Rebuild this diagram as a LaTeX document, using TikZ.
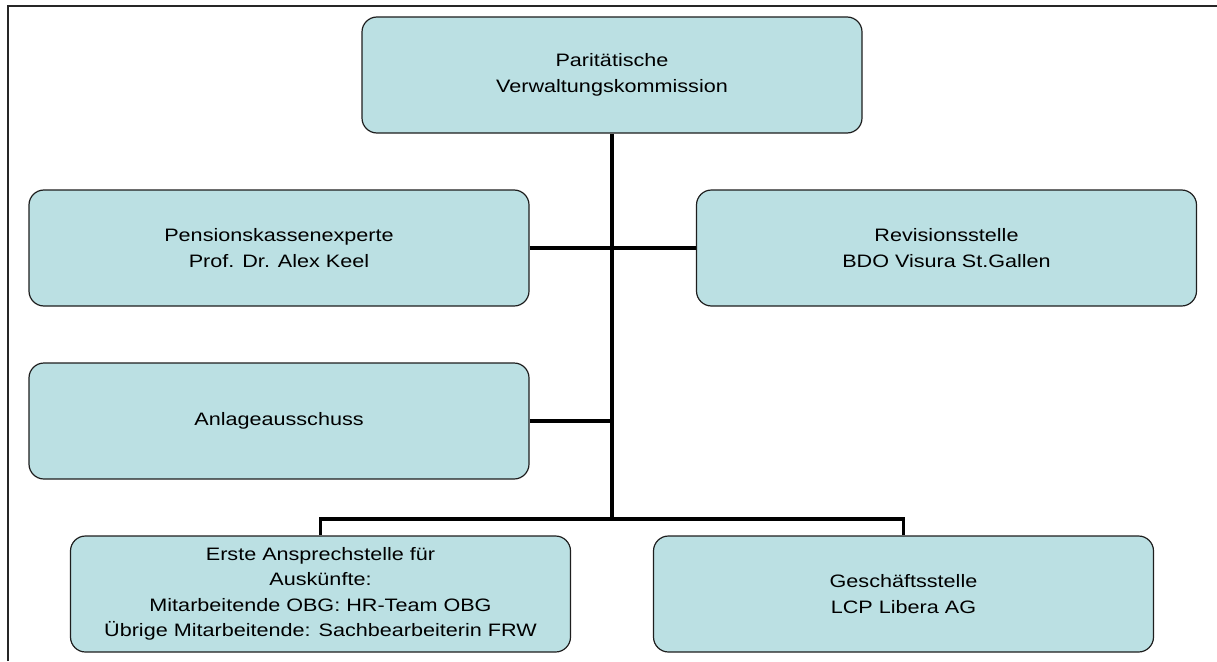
\documentclass[tikz,border=0pt]{standalone}
\usepackage{fontspec}
\setmainfont[FakeStretch=1.2]{Liberation Sans}
\definecolor{boxfill}{RGB}{187,224,227}
\definecolor{boxline}{RGB}{30,30,30}
\begin{document}
\begin{tikzpicture}[x=1pt,y=-1pt,
  orgbox/.style={draw=boxline, line width=1.2pt, fill=boxfill, rounded corners=15pt,
    minimum width=500pt, minimum height=116pt, inner sep=0pt, align=center,
    font=\fontsize{18}{25.5}\selectfont},
  conn/.style={draw=black, line width=3.6pt, line join=miter},
  frameline/.style={draw=black!85, line width=2pt}]
\useasboundingbox (0,0) rectangle (1217,661);
\node[orgbox] (top) at (612,75) {Paritätische\\Verwaltungskommission};
\node[orgbox] (pension) at (279,248) {Pensionskassenexperte\\Prof. Dr. Alex Keel};
\node[orgbox] (revision) at (946.5,248) {Revisionsstelle\\BDO Visura St.Gallen};
\node[orgbox] (anlage) at (279,421) {Anlageausschuss};
\node[orgbox] (erste) at (320.5,594) {Erste Ansprechstelle für\\Auskünfte:\\Mitarbeitende OBG: HR-Team OBG\\Übrige Mitarbeitende: Sachbearbeiterin FRW};
\node[orgbox] (gesch) at (903.5,594) {Geschäftsstelle\\LCP Libera AG};
\coordinate (barmid) at (612,519);
\coordinate (fbot) at (8,661);
\coordinate (fcorner) at (8,6);
\coordinate (fright) at (1217,6);
\draw[frameline] (fbot) -- (fcorner) -- (fright);
\draw[conn] (top.south) -- (barmid);
\draw[conn] (pension.east) -- (revision.west);
\draw[conn] (anlage.east) -- (anlage.east -| barmid);
\draw[conn] (erste.north) |- (barmid) -| (gesch.north);
\end{tikzpicture}
\end{document}
